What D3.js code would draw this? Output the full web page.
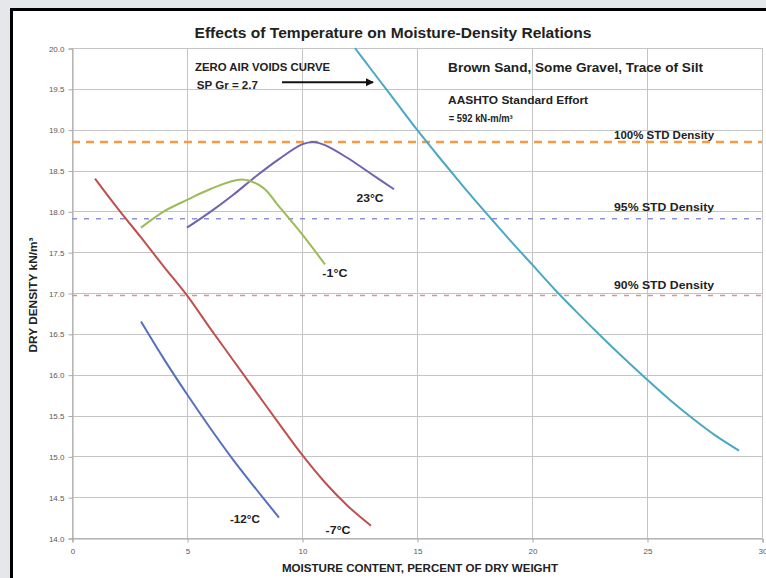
<!DOCTYPE html>
<html lang="en">
<head>
	<meta charset="UTF-8">
	<title>Moisture-Density Relations</title>
	<script src="https://cdn.jsdelivr.net/npm/d3@7"></script>
	<style>
		body { margin: 0; background: #e6e7ea; }
		svg { display: block; }
		text { font-family: "Liberation Sans", Arial, sans-serif; }
	</style>
</head>
<body>
	<svg id="grafico" width="766" height="578"></svg>
	<script>
	// moisture content (%) on x, dry density (kN/m3) on y
	var xTicks = [0, 5, 10, 15, 20, 25, 30];
	var yTicks = [14.0, 14.5, 15.0, 15.5, 16.0, 16.5, 17.0, 17.5, 18.0, 18.5, 19.0, 19.5, 20.0];

	var zeroAirVoids = [[12.3, 20.0], [13, 19.74], [14, 19.37], [15, 19.0], [16, 18.65], [17, 18.31], [18, 17.98],
		[19, 17.66], [20, 17.35], [21, 17.04], [22, 16.75], [23, 16.47], [24, 16.2], [25, 15.94], [26, 15.69],
		[27, 15.46], [28, 15.25], [29, 15.07]];
	var temp23 = [[5, 17.8], [6, 17.99], [7, 18.2], [8, 18.43], [9, 18.64], [10, 18.82], [10.5, 18.85],
		[11, 18.81], [12, 18.65], [13, 18.46], [14, 18.27]];
	var tempMinus1 = [[3, 17.8], [4, 18.0], [5, 18.14], [6, 18.27], [7.4, 18.39], [8.3, 18.29],
		[9, 18.06], [10, 17.72], [11, 17.35]];
	var tempMinus7 = [[1, 18.4], [2, 18.03], [3, 17.68], [4, 17.32], [5, 16.97], [6, 16.57], [7, 16.18],
		[8, 15.79], [9, 15.4], [10, 15.02], [11, 14.68], [12, 14.39], [13, 14.15]];
	var tempMinus12 = [[3, 16.65], [4, 16.19], [5, 15.76], [6, 15.35], [7, 14.96], [8, 14.6], [9, 14.25]];

	var stdNames = ["100% STD Density", "95% STD Density", "90% STD Density"];
	var stdValues = [18.85, 17.91, 16.97];

	var pLeft = 72, pRight = 762, pTop = 48, pBottom = 538;

	var svg = d3.select("#grafico");

	// outer frame
	svg.append("rect").attr("x", 11.5).attr("y", 9.5).attr("width", 800).attr("height", 600)
		.attr("fill", "#fff").attr("stroke", "#000").attr("stroke-width", 3);

	var x = d3.scaleLinear().domain([0, 30]).range([pLeft, pRight]);
	var y = d3.scaleLinear().domain([14, 20]).range([pBottom, pTop]);

	// grid
	svg.append("g").selectAll("line").data(yTicks).join("line")
		.attr("x1", pLeft).attr("x2", pRight)
		.attr("y1", function(d){ return Math.round(y(d)) + 0.5; }).attr("y2", function(d){ return Math.round(y(d)) + 0.5; })
		.attr("stroke", "#c4c4c4");
	svg.append("g").selectAll("line").data(xTicks).join("line")
		.attr("y1", pTop).attr("y2", pBottom)
		.attr("x1", function(d){ return Math.round(x(d)) + 0.5; }).attr("x2", function(d){ return Math.round(x(d)) + 0.5; })
		.attr("stroke", "#c4c4c4");

	// axes
	var yAxis = svg.append("g").attr("transform", "translate(" + (pLeft + 0.5) + ",0.5)")
		.call(d3.axisLeft(y).tickValues(yTicks).tickFormat(d3.format(".1f")).tickSize(4).tickPadding(4));
	var xAxis = svg.append("g").attr("transform", "translate(0.5," + (pBottom + 0.5) + ")")
		.call(d3.axisBottom(x).tickValues(xTicks).tickSize(4).tickPadding(6));
	[xAxis, yAxis].forEach(function(a){
		a.select(".domain").attr("stroke", "#a8a8a8");
		a.selectAll(".tick line").attr("stroke", "#a8a8a8");
		a.selectAll(".tick text").attr("fill", "#595959").style("font-size", "8px");
	});

	// reference density lines
	var stdStyle = [
		{color: "#f59a45", width: 2.5, dash: "8,6", dy: -3},
		{color: "#8e90d6", width: 1.6, dash: "5,7", dy: -8},
		{color: "#d8929c", width: 1.6, dash: "5,7", dy: -6}
	];
	stdValues.forEach(function(v, i){
		svg.append("line").attr("x1", x(0)).attr("x2", x(30)).attr("y1", y(v)).attr("y2", y(v))
			.attr("stroke", stdStyle[i].color).attr("stroke-width", stdStyle[i].width)
			.attr("stroke-dasharray", stdStyle[i].dash);
		svg.append("text").attr("x", x(25.74)).attr("y", y(v) + stdStyle[i].dy)
			.attr("text-anchor", "middle").style("font-size", "10.5px").style("font-weight", "bold")
			.attr("fill", "#222").attr("textLength", 100).attr("lengthAdjust", "spacingAndGlyphs")
			.text(stdNames[i]);
	});

	// curves
	var line = d3.line().x(function(d){ return x(d[0]); }).y(function(d){ return y(d[1]); })
		.curve(d3.curveCatmullRom.alpha(0.5));
	var series = [
		{data: zeroAirVoids, color: "#4aa8c4"},
		{data: temp23, color: "#6f62ae"},
		{data: tempMinus1, color: "#9bbb59"},
		{data: tempMinus7, color: "#c0504d"},
		{data: tempMinus12, color: "#5670c0"}
	];
	svg.append("g").selectAll("path").data(series).join("path")
		.attr("d", function(s){ return line(s.data); })
		.attr("fill", "none").attr("stroke", function(s){ return s.color; })
		.attr("stroke-width", 2);

	// annotations (x, y in data units)
	var notes = [
		{t: "23°C", x: 12.96, y: 18.12, a: "middle", s: 10, w: 27},
		{t: "-1°C", x: 11.43, y: 17.2, a: "middle", s: 10, w: 25},
		{t: "-12°C", x: 7.52, y: 14.18, a: "middle", s: 10, w: 30},
		{t: "-7°C", x: 11.57, y: 14.05, a: "middle", s: 10, w: 25},
		{t: "ZERO AIR VOIDS CURVE", x: 5.35, y: 19.72, a: "start", s: 10, w: 135},
		{t: "SP Gr = 2.7", x: 5.43, y: 19.5, a: "start", s: 10, w: 61},
		{t: "Brown Sand, Some Gravel, Trace of Silt", x: 16.35, y: 19.71, a: "start", s: 12, w: 255},
		{t: "AASHTO Standard Effort", x: 16.35, y: 19.32, a: "start", s: 10, w: 140},
		{t: "= 592 kN-m/m³", x: 16.38, y: 19.1, a: "start", s: 10, w: 64}
	];
	svg.append("g").selectAll("text").data(notes).join("text")
		.attr("x", function(d){ return x(d.x); }).attr("y", function(d){ return y(d.y); })
		.attr("text-anchor", function(d){ return d.a; })
		.style("font-size", function(d){ return d.s + "px"; }).style("font-weight", "bold")
		.attr("fill", "#222")
		.attr("textLength", function(d){ return d.w; }).attr("lengthAdjust", "spacingAndGlyphs")
		.text(function(d){ return d.t; });

	// arrow to zero air voids curve
	svg.append("defs").append("marker").attr("id", "seta")
		.attr("viewBox", "0 0 10 10").attr("refX", 9).attr("refY", 5)
		.attr("markerWidth", 4).attr("markerHeight", 4).attr("orient", "auto")
		.append("path").attr("d", "M0,0L10,5L0,10z").attr("fill", "#111");
	svg.append("line").attr("x1", x(9.13)).attr("x2", x(13.09)).attr("y1", y(19.58)).attr("y2", y(19.58))
		.attr("stroke", "#111").attr("stroke-width", 2).attr("marker-end", "url(#seta)");

	// titles
	svg.append("text").attr("x", 393).attr("y", 38).attr("text-anchor", "middle")
		.style("font-size", "14px").style("font-weight", "bold").attr("fill", "#222")
		.attr("textLength", 397).attr("lengthAdjust", "spacingAndGlyphs")
		.text("Effects of Temperature on Moisture-Density Relations");
	svg.append("text").attr("x", 420).attr("y", 572).attr("text-anchor", "middle")
		.style("font-size", "11px").style("font-weight", "bold").attr("fill", "#222")
		.attr("textLength", 276).attr("lengthAdjust", "spacingAndGlyphs")
		.text("MOISTURE CONTENT, PERCENT OF DRY WEIGHT");
	svg.append("text").attr("transform", "translate(37,295) rotate(-90)").attr("text-anchor", "middle")
		.style("font-size", "10.5px").style("font-weight", "bold").attr("fill", "#222")
		.attr("textLength", 115).attr("lengthAdjust", "spacingAndGlyphs")
		.text("DRY DENSITY kN/m³");
	</script>
</body>
</html>
